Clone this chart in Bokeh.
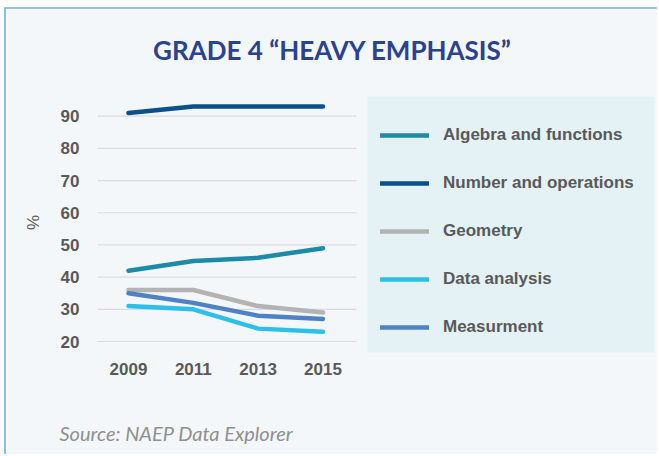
from bokeh.plotting import figure
from bokeh.models import Legend, LegendItem, Label, FixedTicker, Range1d, BoxAnnotation
from bokeh.embed import file_html
from bokeh.resources import INLINE

years = ["2009", "2011", "2013", "2015"]
algebra = [42, 45, 46, 49]
number_ops = [91, 93, 93, 93]
geometry = [36, 36, 31, 29]
data_analysis = [31, 30, 24, 23]
measurement = [35, 32, 28, 27]
series_names = ["Algebra and functions", "Number and operations", "Geometry",
                "Data analysis", "Measurment"]
series_values = [algebra, number_ops, geometry, data_analysis, measurement]
series_colors = ["#1b8ba8", "#0b4f8c", "#b3b3b3", "#2cbfea", "#4d82c6"]
y_ticks = [20, 30, 40, 50, 60, 70, 80, 90]

# layout geometry (pixels on the page) -> data coordinates
W, H = 653, 447          # canvas size; canvas origin at page (6, 9)
OX, OY = 6, 9
X0_PX, DX_PX = 128.0, 64.83      # first category position, step
Y90_PX, PX_PER_UNIT = 115.7, 3.2186

def px2x(px):
    return (px - X0_PX) / DX_PX

def px2y(py):
    return 90 + (Y90_PX - py) / PX_PER_UNIT

xpos = list(range(len(years)))

BG = "#f3f7fa"
p = figure(width=W, height=H,
           x_range=Range1d(px2x(OX), px2x(OX + W)),
           y_range=Range1d(px2y(OY + H), px2y(OY)),
           output_backend="svg", toolbar_location=None,
           min_border_left=0, min_border_right=0, min_border_top=0, min_border_bottom=0)
p.styles = {"margin-left": "4px", "margin-top": "7px",
            "border-left": "2px solid #86c3d6", "border-top": "2px solid #8fc8da"}
p.background_fill_color = BG
p.border_fill_color = BG
p.outline_line_color = None
p.xgrid.grid_line_color = None
p.ygrid.grid_line_color = None

plot_left, plot_right = px2x(97), px2x(356)
# horizontal grid lines at the y ticks, only across the plotting area
p.segment(x0=[plot_left] * len(y_ticks), x1=[plot_right] * len(y_ticks),
          y0=y_ticks, y1=y_ticks, line_color="#dcdcdc", line_width=1.2)

p.xaxis.ticker = FixedTicker(ticks=xpos)
p.xaxis.major_label_overrides = {i: y for i, y in zip(xpos, years)}
p.xaxis.fixed_location = px2y(358)
p.xaxis.bounds = (plot_left, plot_right)
p.yaxis.ticker = FixedTicker(ticks=y_ticks)
p.yaxis.fixed_location = plot_left
p.yaxis.bounds = (px2y(352), px2y(92))

for ax in (p.xaxis[0], p.yaxis[0]):
    ax.axis_line_color = None
    ax.major_tick_line_color = None
    ax.minor_tick_line_color = None
    ax.major_tick_out = 0
    ax.major_tick_in = 0
    ax.minor_tick_out = 0
    ax.major_label_text_font = "Liberation Sans"
    ax.major_label_text_font_style = "bold"
    ax.major_label_text_font_size = "17px"
    ax.major_label_text_color = "#595959"
p.xaxis.major_label_standoff = 4
p.yaxis.major_label_standoff = 18
p.yaxis.axis_label = "%"
p.yaxis.axis_label_text_font = "Liberation Sans"
p.yaxis.axis_label_text_font_style = "normal"
p.yaxis.axis_label_text_font_size = "17px"
p.yaxis.axis_label_text_color = "#595959"
p.yaxis.axis_label_standoff = 15

# legend panel background
p.add_layout(BoxAnnotation(left=px2x(367), right=px2x(654), top=px2y(96), bottom=px2y(352),
                           fill_color="#e4f2f6", fill_alpha=1, line_color=None, level="underlay"))

items = []
for name, vals, col in zip(series_names, series_values, series_colors):
    r = p.line(xpos, vals, line_color=col, line_width=4.5, line_cap="round", line_join="round")
    items.append(LegendItem(label=name, renderers=[r]))

legend = Legend(items=items, location=(374, 119), orientation="vertical",
                background_fill_alpha=0, border_line_color=None,
                padding=0, spacing=28, margin=0,
                glyph_width=49, glyph_height=20, label_height=20, label_standoff=14,
                label_text_font="Liberation Sans", label_text_font_style="bold",
                label_text_font_size="17px", label_text_color="#595959")
p.add_layout(legend, "center")

p.add_layout(Label(x=px2x(332), y=px2y(49.5), text="GRADE 4 \u201cHEAVY EMPHASIS\u201d",
                   text_align="center", text_baseline="middle",
                   text_font="Lato", text_font_style="bold",
                   text_font_size="26px", text_color="#2a4290"))

p.add_layout(Label(x=px2x(59), y=px2y(432), text="Source: NAEP Data Explorer",
                   text_align="left", text_baseline="middle",
                   text_font="Lato", text_font_style="italic",
                   text_font_size="20px", text_color="#8f8f8f"))

open("out.html", "w").write(file_html(p, INLINE))
